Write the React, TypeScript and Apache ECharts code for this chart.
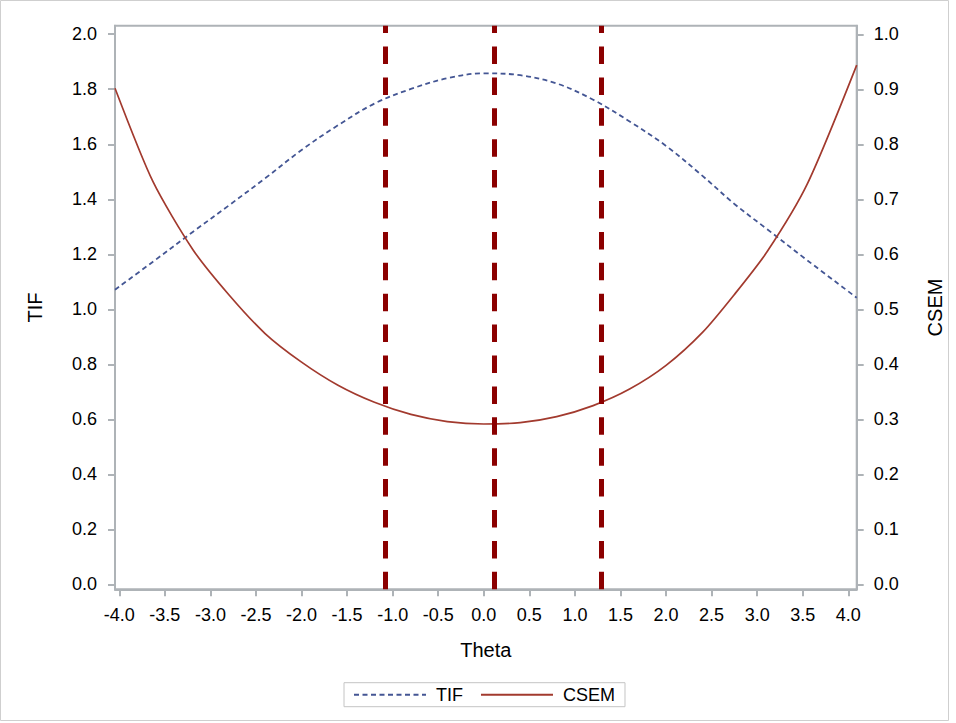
import React, { useEffect, useRef } from "react";
import * as echarts from "echarts";

// Theta grid (x) and the two curves
const thetaValues = [-4.047, -3.63, -3.19, -2.8, -2.4, -2.0, -1.6, -1.2, -0.8, -0.4, 0.0, 0.4, 0.8, 1.2, 1.6, 2.0, 2.4, 2.75, 3.11, 3.55, 4.092];
const tifValues = [1.071, 1.173, 1.282, 1.377, 1.476, 1.579, 1.669, 1.748, 1.801, 1.840, 1.858, 1.851, 1.821, 1.762, 1.683, 1.594, 1.485, 1.383, 1.291, 1.178, 1.042];
const csemValues = [0.902, 0.732, 0.608, 0.527, 0.456, 0.404, 0.362, 0.331, 0.309, 0.296, 0.2915, 0.294, 0.305, 0.325, 0.355, 0.398, 0.458, 0.527, 0.605, 0.728, 0.944];

// Vertical reference (cut) lines
const cutThetas = [-1.083, 0.116, 1.295];

// Tick labels
const xTicks = [-4.0, -3.5, -3.0, -2.5, -2.0, -1.5, -1.0, -0.5, 0.0, 0.5, 1.0, 1.5, 2.0, 2.5, 3.0, 3.5, 4.0];
const leftTicks = [0.0, 0.2, 0.4, 0.6, 0.8, 1.0, 1.2, 1.4, 1.6, 1.8, 2.0];
const rightTicks = [0.0, 0.1, 0.2, 0.3, 0.4, 0.5, 0.6, 0.7, 0.8, 0.9, 1.0];

const FONT = "'Liberation Sans', Arial, Helvetica, sans-serif";
const AXIS = "#AEB3B7";
const TIF_COLOR = "#445694";
const CSEM_COLOR = "#A23A2E";
const CUT_COLOR = "#8B0000";

export default function App() {
  const ref = useRef<HTMLDivElement>(null);

  useEffect(() => {
    if (!ref.current) return;
    const chart = echarts.init(ref.current, null, { renderer: "svg" });
    const fmt = (v: number) => Number(v).toFixed(1);
    const axisLine = { show: true, onZero: false, lineStyle: { color: AXIS, width: 2 } };
    const axisTick = (vals: number[]) => ({ show: true, length: 7, customValues: vals, lineStyle: { color: AXIS, width: 2 } });

    chart.setOption({
      animation: false,
      backgroundColor: "#ffffff",
      textStyle: { fontFamily: FONT },
      grid: {
        left: 115,
        right: 99.3,
        top: 25.7,
        bottom: 133.7,
        show: true,
        borderColor: AXIS,
        borderWidth: 2,
        backgroundColor: "transparent",
      },
      graphic: [
        {
          type: "rect",
          shape: { x: 0.5, y: 0.5, width: 948, height: 720 },
          style: { fill: "none", stroke: "#CFCFCF", lineWidth: 1 },
          silent: true,
        },
      ],
      legend: {
        show: true,
        left: 344,
        top: 682.7,
        orient: "horizontal",
        itemWidth: 72,
        itemHeight: 14,
        itemGap: 17,
        padding: [3, 10, 3, 9],
        borderColor: "#C4C4C4",
        borderWidth: 1,
        itemStyle: { opacity: 0, borderWidth: 0 },
        textStyle: { fontSize: 18, color: "#000", fontFamily: FONT, padding: [0, 0, 0, 5] },
        data: ["TIF", "CSEM"],
      },
      xAxis: {
        type: "value",
        min: -4.047,
        max: 4.092,
        axisLine,
        axisTick: axisTick(xTicks),
        axisLabel: { customValues: xTicks, formatter: fmt, fontSize: 18, color: "#000", margin: 17, fontFamily: FONT },
        splitLine: { show: false },
        name: "Theta",
        nameLocation: "middle",
        nameGap: 51,
        nameTextStyle: { fontSize: 20, color: "#000", fontFamily: FONT },
      },
      yAxis: [
        {
          type: "value",
          position: "left",
          min: -0.018,
          max: 2.031,
          axisLine,
          axisTick: axisTick(leftTicks),
          axisLabel: { customValues: leftTicks, formatter: fmt, fontSize: 18, color: "#000", margin: 18, fontFamily: FONT },
          splitLine: { show: false },
          name: "TIF",
          nameLocation: "middle",
          nameRotate: 90,
          nameGap: 70,
          nameTextStyle: { fontSize: 20, color: "#000", fontFamily: FONT },
        },
        {
          type: "value",
          position: "right",
          min: -0.009,
          max: 1.0157,
          axisLine,
          axisTick: axisTick(rightTicks),
          axisLabel: { customValues: rightTicks, formatter: fmt, fontSize: 18, color: "#000", margin: 17, fontFamily: FONT },
          splitLine: { show: false },
          name: "CSEM",
          nameLocation: "middle",
          nameRotate: 90,
          nameGap: 68,
          nameTextStyle: { fontSize: 20, color: "#000", fontFamily: FONT },
        },
      ],
      series: [
        {
          name: "TIF",
          type: "line",
          yAxisIndex: 0,
          data: thetaValues.map((t, i) => [t, tifValues[i]]),
          symbol: "none",
          smooth: 0.35,
          color: TIF_COLOR,
          lineStyle: { color: TIF_COLOR, width: 1.8, type: [5, 3.5] },
          z: 2,
        },
        {
          name: "CSEM",
          type: "line",
          yAxisIndex: 1,
          data: thetaValues.map((t, i) => [t, csemValues[i]]),
          symbol: "none",
          smooth: 0.25,
          color: CSEM_COLOR,
          lineStyle: { color: CSEM_COLOR, width: 1.7, type: "solid" },
          z: 2,
        },
        {
          name: "cuts",
          type: "line",
          yAxisIndex: 0,
          data: [],
          z: 5,
          markLine: {
            silent: true,
            symbol: ["none", "none"],
            label: { show: false },
            lineStyle: { color: CUT_COLOR, width: 5, type: [17.5, 13.4], opacity: 1 },
            emphasis: { disabled: true },
            data: cutThetas.map((v) => ({ xAxis: v })),
          },
        },
      ],
    });

    return () => chart.dispose();
  }, []);

  return <div ref={ref} style={{ position: "fixed", left: 0, top: 0, width: 956, height: 723 }} />;
}
